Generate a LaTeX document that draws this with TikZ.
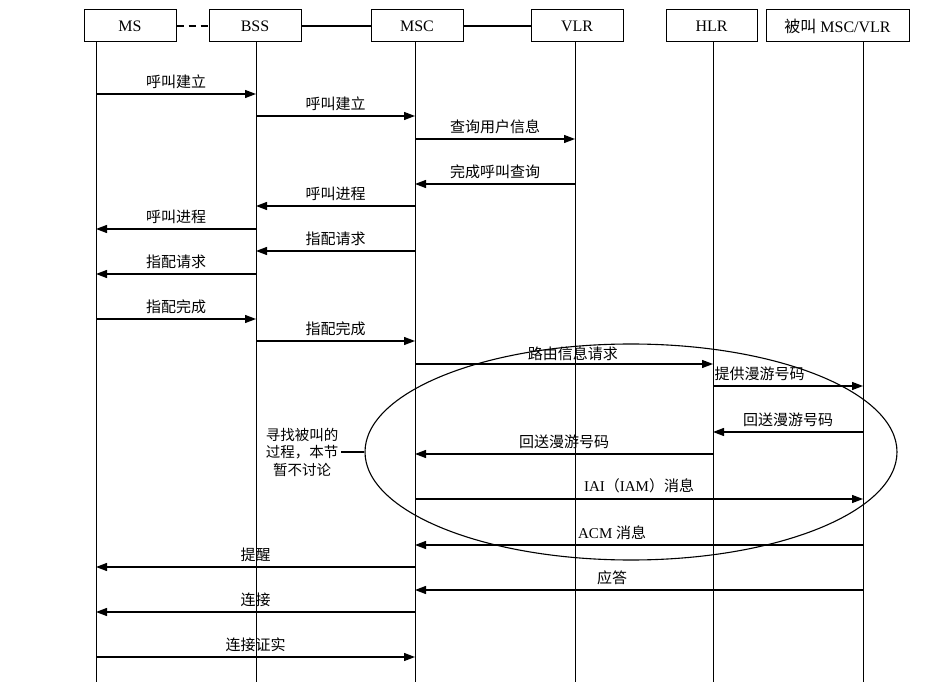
\documentclass[tikz,border=0pt]{standalone}
\usepackage{fontspec}
\setmainfont{Liberation Serif}
\newfontfamily\cjk{Noto Sans CJK SC}
\usepackage{xcolor}
\usepackage{tikz}
\usetikzlibrary{arrows.meta, shapes.geometric, positioning, calc}

\begin{document}
\begin{tikzpicture}[
  x=1pt, y=-1pt,
  entity/.style={draw, line width=1pt, minimum height=32pt, inner sep=0pt,
    font=\fontsize{16}{18}\selectfont},
  life/.style={line width=1pt},
  msg/.style={line width=1.3pt, -{Triangle[length=11pt,width=8pt]}},
  lbl/.style={above=4pt, inner sep=1pt, font=\cjk\fontsize{15}{17}\selectfont}
]
  \useasboundingbox (0,0) rectangle (937,692);

  \node[entity, minimum width=92pt]  (ms)     at (130,26)   {MS};
  \node[entity, minimum width=92pt]  (bss)    at (255,26)   {BSS};
  \node[entity, minimum width=92pt]  (msc)    at (417,26)   {MSC};
  \node[entity, minimum width=92pt]  (vlr)    at (577,26)   {VLR};
  \node[entity, minimum width=91pt]  (hlr)    at (711.5,26) {HLR};
  \node[entity, minimum width=143pt] (called) at (837.5,26) {{\cjk 被叫} MSC/VLR};

  \draw[life, line width=1.3pt, dash pattern=on 7pt off 5pt] (ms.east) -- (bss.west);
  \draw[life, line width=1.3pt] (bss.east) -- (msc.west);
  \draw[life, line width=1.3pt] (msc.east) -- (vlr.west);

  \coordinate (ms-top)     at (96,42);   \coordinate (ms-end)     at (96,682);
  \coordinate (bss-top)    at (256,42);  \coordinate (bss-end)    at (256,682);
  \coordinate (msc-top)    at (415,42);  \coordinate (msc-end)    at (415,682);
  \coordinate (vlr-top)    at (575,42);  \coordinate (vlr-end)    at (575,682);
  \coordinate (hlr-top)    at (713,42);  \coordinate (hlr-end)    at (713,682);
  \coordinate (called-top) at (863,42);  \coordinate (called-end) at (863,682);
  \draw[life] (ms-top) -- (ms-end);
  \draw[life] (bss-top) -- (bss-end);
  \draw[life] (msc-top) -- (msc-end);
  \draw[life] (vlr-top) -- (vlr-end);
  \draw[life] (hlr-top) -- (hlr-end);
  \draw[life] (called-top) -- (called-end);

  \draw[msg] (ms-top |- 0,94)      -- node[lbl] (m1)  {呼叫建立}     (bss-top |- 0,94);
  \draw[msg] (bss-top |- 0,116)    -- node[lbl] (m2)  {呼叫建立}     (msc-top |- 0,116);
  \draw[msg] (msc-top |- 0,139)    -- node[lbl] (m3)  {查询用户信息} (vlr-top |- 0,139);
  \draw[msg] (vlr-top |- 0,184)    -- node[lbl] (m4)  {完成呼叫查询} (msc-top |- 0,184);
  \draw[msg] (msc-top |- 0,206)    -- node[lbl] (m5)  {呼叫进程}     (bss-top |- 0,206);
  \draw[msg] (bss-top |- 0,229)    -- node[lbl] (m6)  {呼叫进程}     (ms-top |- 0,229);
  \draw[msg] (msc-top |- 0,251)    -- node[lbl] (m7)  {指配请求}     (bss-top |- 0,251);
  \draw[msg] (bss-top |- 0,274)    -- node[lbl] (m8)  {指配请求}     (ms-top |- 0,274);
  \draw[msg] (ms-top |- 0,319)     -- node[lbl] (m9)  {指配完成}     (bss-top |- 0,319);
  \draw[msg] (bss-top |- 0,341)    -- node[lbl] (m10) {指配完成}     (msc-top |- 0,341);
  \draw[msg] (msc-top |- 0,364)    -- node[lbl, above=2pt, pos=0.53] (m11) {路由信息请求} (hlr-top |- 0,364);
  \draw[msg] (hlr-top |- 0,386)    -- node[lbl, pos=0.31] (m12) {提供漫游号码} (called-top |- 0,386);
  \draw[msg] (called-top |- 0,432) -- node[lbl] (m13) {回送漫游号码} (hlr-top |- 0,432);
  \draw[msg] (hlr-top |- 0,454)    -- node[lbl] (m14) {回送漫游号码} (msc-top |- 0,454);
  \draw[msg] (msc-top |- 0,499)    -- node[lbl] (m15) {\rmfamily IAI{\cjk（}IAM{\cjk）消息}} (called-top |- 0,499);
  \draw[msg] (called-top |- 0,545) -- node[lbl, pos=0.56] (m16) {\rmfamily ACM {\cjk 消息}} (msc-top |- 0,545);
  \draw[msg] (msc-top |- 0,567)    -- node[lbl] (m17) {提醒}         (ms-top |- 0,567);
  \draw[msg] (called-top |- 0,590) -- node[lbl, pos=0.56] (m18) {应答} (msc-top |- 0,590);
  \draw[msg] (msc-top |- 0,612)    -- node[lbl] (m19) {连接}         (ms-top |- 0,612);
  \draw[msg] (ms-top |- 0,657)     -- node[lbl] (m20) {连接证实}     (msc-top |- 0,657);

  \node[draw, ellipse, line width=1.1pt, minimum width=532pt, minimum height=216pt,
    inner sep=0pt] (search) at (631,452) {};
  \node[align=center, inner sep=3pt, font=\cjk\fontsize{14.5}{17.5}\selectfont]
    (note) at (302,452) {寻找被叫的\\过程，本节\\暂不讨论};
  \draw[life, line width=1.3pt] (note.east) -- (search.west);
\end{tikzpicture}
\end{document}
